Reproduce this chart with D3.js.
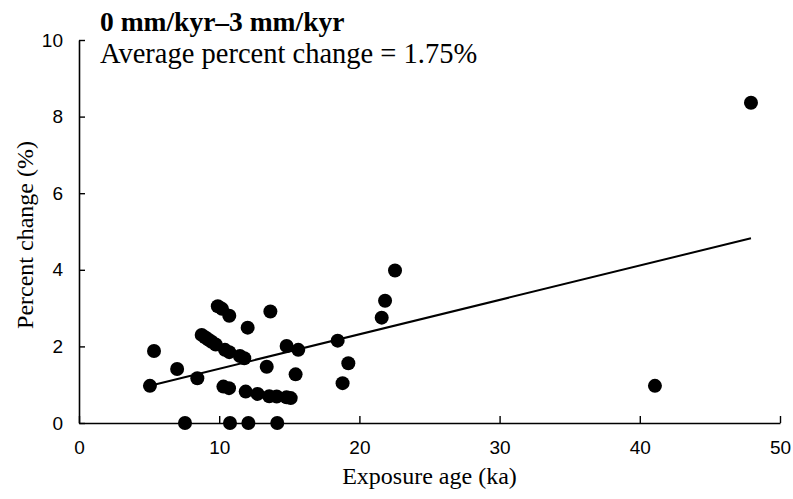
<!DOCTYPE html>
<html>
<head>
<meta charset="utf-8">
<script src="https://cdn.jsdelivr.net/npm/d3@7"></script>
<style>
  html, body { margin: 0; padding: 0; background: #fff; }
  svg { display: block; font-family: "Liberation Serif", "Times New Roman", serif; }
</style>
</head>
<body>
<div id="chart"></div>
<script>
// exposure age (ka) and percent change (%) for each sample
const exposureAge = [
  5.06, 5.35, 7.0, 8.44, 7.56,
  9.9, 10.2, 10.72, 12.03, 13.65,
  8.75, 8.99, 9.22, 9.46, 9.75,
  10.41, 10.72, 11.48, 11.79, 13.39,
  14.81, 15.64, 15.45, 10.3, 10.7,
  11.89, 12.74, 13.57, 14.1, 14.8, 15.1,
  10.77, 12.08, 14.14,
  18.45, 19.21, 18.8,
  22.54, 21.83, 21.59,
  41.08, 47.93
];
const percentChange = [
  0.97, 1.88, 1.41, 1.17, 0.0,
  3.05, 2.98, 2.8, 2.49, 2.91,
  2.30, 2.24, 2.18, 2.12, 2.05,
  1.91, 1.85, 1.75, 1.69, 1.47,
  2.01, 1.91, 1.27, 0.95, 0.91,
  0.82, 0.76, 0.70, 0.69, 0.67, 0.65,
  0.0, 0.0, 0.0,
  2.15, 1.56, 1.04,
  3.98, 3.19, 2.75,
  0.97, 8.36
];
// trend line as drawn in the figure
const trendSlope = 0.0898;
const trendIntercept = 0.52;
const xTicks = [0, 10, 20, 30, 40, 50];
const yTicks = [0, 2, 4, 6, 8, 10];
const titleText = "0 mm/kyr\u20133 mm/kyr";
const subtitleText = "Average percent change = 1.75%";
const xLabel = "Exposure age (ka)";
const yLabel = "Percent change (%)";

function drawScatter() {
  const width = 793;
  const height = 499;
  const margin = { top: 40, right: 13, bottom: 76, left: 79 };

  const svg = d3.select("#chart")
    .append("svg")
    .attr("width", width)
    .attr("height", height);

  const x = d3.scaleLinear().domain([0, 50]).range([margin.left, width - margin.right]);
  const y = d3.scaleLinear().domain([0, 10]).range([height - margin.bottom, margin.top]);

  const points = exposureAge.map((a, i) => ({ age: a, pct: percentChange[i] }));

  // both axes have their ticks pointing into the plot
  const xAxis = svg.append("g")
    .attr("transform", `translate(0,${y(0)})`)
    .call(d3.axisBottom(x).tickValues(xTicks).tickSize(-7).tickSizeOuter(0).tickPadding(18));
  xAxis.select(".domain").attr("stroke", "#000").attr("stroke-width", 1.6);
  xAxis.selectAll(".tick line").attr("stroke-width", 1.4);
  xAxis.selectAll("text").style("font-size", "19px").attr("fill", "#000");

  const yAxis = svg.append("g")
    .attr("transform", `translate(${x(0)},0)`)
    .call(d3.axisLeft(y).tickValues(yTicks).tickSize(-6).tickSizeOuter(0).tickPadding(16));
  yAxis.select(".domain").attr("stroke", "#000").attr("stroke-width", 1.6);
  yAxis.selectAll(".tick line").attr("stroke-width", 1.4);
  yAxis.selectAll("text").style("font-size", "19px").attr("fill", "#000");

  const [xmin, xmax] = d3.extent(points, d => d.age);

  svg.append("line")
    .attr("x1", x(xmin)).attr("y1", y(trendIntercept + trendSlope * xmin))
    .attr("x2", x(xmax)).attr("y2", y(trendIntercept + trendSlope * xmax))
    .attr("stroke", "#000")
    .attr("stroke-width", 2);

  svg.append("g")
    .selectAll("circle")
    .data(points)
    .join("circle")
    .attr("cx", d => x(d.age))
    .attr("cy", d => y(d.pct))
    .attr("r", 7)
    .attr("fill", "#000");

  svg.append("text")
    .attr("x", 100).attr("y", 31)
    .style("font-size", "27.5px")
    .style("font-weight", "bold")
    .text(titleText);

  svg.append("text")
    .attr("x", 100).attr("y", 63)
    .style("font-size", "28.5px")
    .text(subtitleText);

  svg.append("text")
    .attr("x", (x(0) + x(50)) / 2)
    .attr("y", 484)
    .attr("text-anchor", "middle")
    .style("font-size", "24px")
    .text(xLabel);

  svg.append("text")
    .attr("transform", `translate(33,235) rotate(-90)`)
    .attr("text-anchor", "middle")
    .style("font-size", "24px")
    .text(yLabel);
}

drawScatter();
</script>
</body>
</html>
